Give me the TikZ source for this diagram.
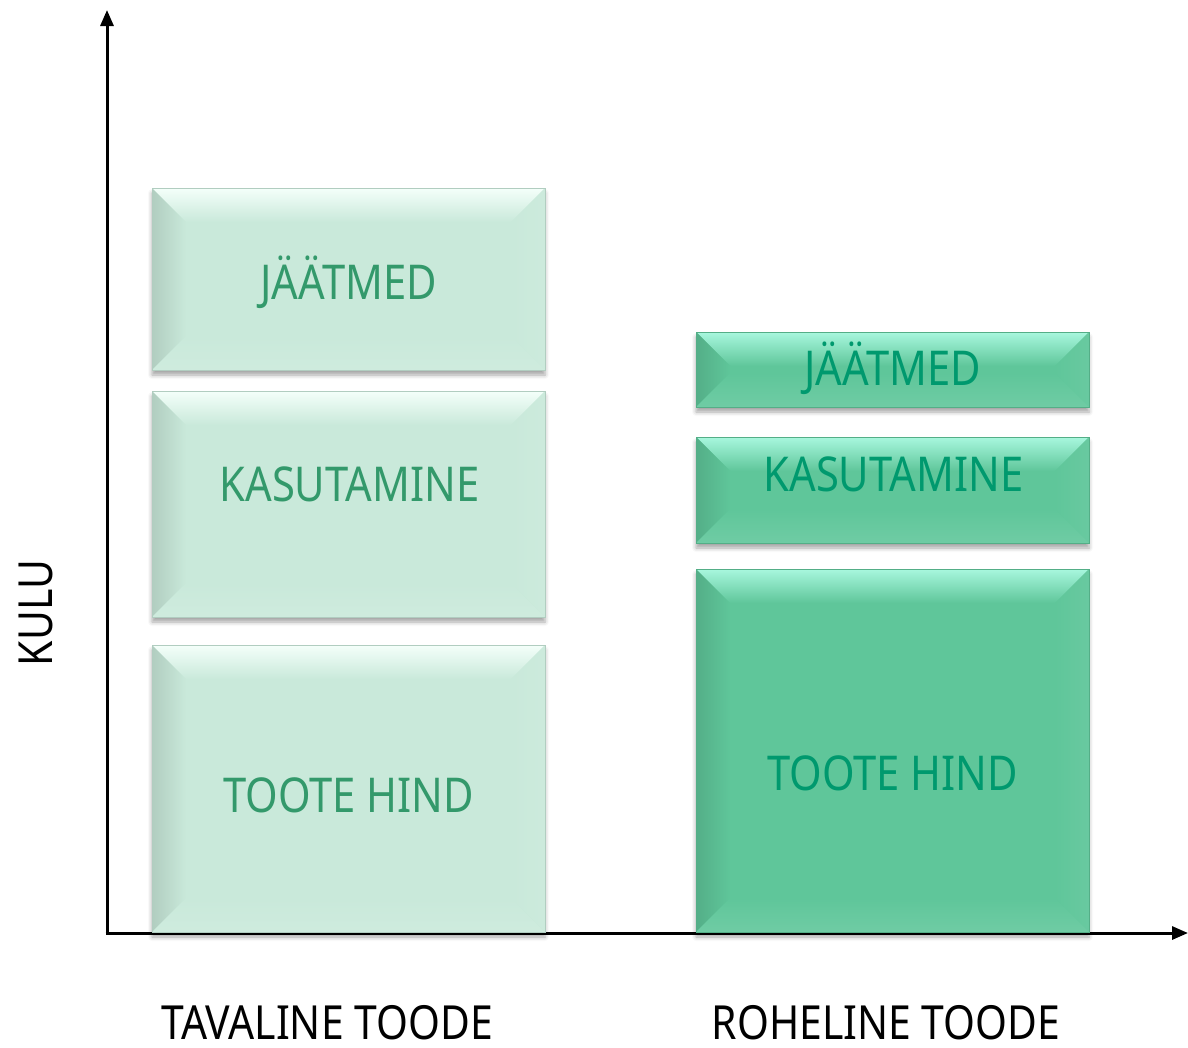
\documentclass[tikz,border=0pt]{standalone}
\usepackage{fontspec}
\setmainfont{Noto Sans}[FakeStretch=0.87]
\usetikzlibrary{arrows.meta,calc,shadows.blur}
\definecolor{lfill}{HTML}{C9E9DA}
\definecolor{ltop}{HTML}{F4FFFA}
\definecolor{ltext}{HTML}{33996B}
\definecolor{dfill}{HTML}{5FC69A}
\definecolor{dtop}{HTML}{A8F7DE}
\definecolor{dtext}{HTML}{00996E}
\tikzset{
  bx/.style={rectangle, inner sep=0pt, outer sep=0pt, minimum width=393pt,
    blur shadow={shadow xshift=0pt, shadow yshift=-5pt, shadow blur radius=4pt, shadow opacity=35}},
  boxlight/.style={bx, fill=lfill},
  boxdark/.style={bx, fill=dfill},
  txtlight/.style={anchor=base, inner sep=0pt, text=ltext, font=\fontsize{48}{48}\selectfont},
  txtdark/.style={anchor=base, inner sep=0pt, text=dtext, font=\fontsize{48}{48}\selectfont},
  lab/.style={anchor=base, inner sep=0pt, text=black, font=\fontsize{47}{47}\selectfont},
  axis/.style={line width=3pt, -{Triangle[length=16pt,width=13pt]}}
}
\newcommand\bev[5]{%
  \path (#1.north west) coordinate (bva) (#1.north east) coordinate (bvb)
        (#1.south east) coordinate (bvc) (#1.south west) coordinate (bvd);
  \coordinate (bvai) at ($(bva)+(#2,#3)$);
  \coordinate (bvbi) at ($(bvb)+(-#2,#3)$);
  \coordinate (bvci) at ($(bvc)+(-#2,-#3)$);
  \coordinate (bvdi) at ($(bvd)+(#2,-#3)$);
  \shade[top color=#4, bottom color=#5] (bva)--(bvb)--(bvbi)--(bvai)--cycle;
  \shade[left color=#5!88!black, right color=#5] (bva)--(bvai)--(bvdi)--(bvd)--cycle;
  \shade[left color=#5, right color=#5!94!white] (bvb)--(bvc)--(bvci)--(bvbi)--cycle;
  \shade[top color=#5, bottom color=#5!90!white] (bvd)--(bvdi)--(bvci)--(bvc)--cycle;
  \draw[#5!88!black, line width=0.6pt] (bva) rectangle (bvc);
}
\begin{document}
\begin{tikzpicture}[x=1pt,y=-1pt]
\useasboundingbox (0,0) rectangle (1188,1047);
% axes
\coordinate (o) at (107,933);
\coordinate (ytip) at (107,10);
\coordinate (xtip) at (1188,933);
\draw[axis] ($(o)+(0,1.5)$) -- (ytip);
\draw[axis] ($(o)+(-1.5,0)$) -- (xtip);
% left column
\node[boxlight, minimum height=182pt] (L3) at (348.5,279) {};
\bev{L3}{34}{34}{ltop}{lfill}
\node[boxlight, minimum height=226pt] (L2) at (348.5,504) {};
\bev{L2}{34}{34}{ltop}{lfill}
\node[boxlight, minimum height=287pt] (L1) at (348.5,788.5) {};
\bev{L1}{34}{34}{ltop}{lfill}
% right column
\node[boxdark, minimum height=75pt] (R3) at (892.5,369.5) {};
\bev{R3}{34}{34}{dtop}{dfill}
\node[boxdark, minimum height=106pt] (R2) at (892.5,490) {};
\bev{R2}{34}{34}{dtop}{dfill}
\node[boxdark, minimum height=363pt] (R1) at (892.5,750.5) {};
\bev{R1}{34}{34}{dtop}{dfill}
% texts
\node[txtlight] (tL3) at (348.5,299) {JÄÄTMED};
\node[txtlight] (tL2) at (349.5,501) {KASUTAMINE};
\node[txtlight] (tL1) at (348.5,812) {TOOTE HIND};
\node[txtdark] (tR3) at (892.5,385) {JÄÄTMED};
\node[txtdark] (tR2) at (893.5,491) {KASUTAMINE};
\node[txtdark] (tR1) at (892.5,790) {TOOTE HIND};
% axis labels
\node[lab] (xl1) at (327,1039) {TAVALINE TOODE};
\node[lab] (xl2) at (886,1039) {ROHELINE TOODE};
\node[lab, rotate=90] (yl) at (52,613) {KULU};
\end{tikzpicture}
\end{document}
